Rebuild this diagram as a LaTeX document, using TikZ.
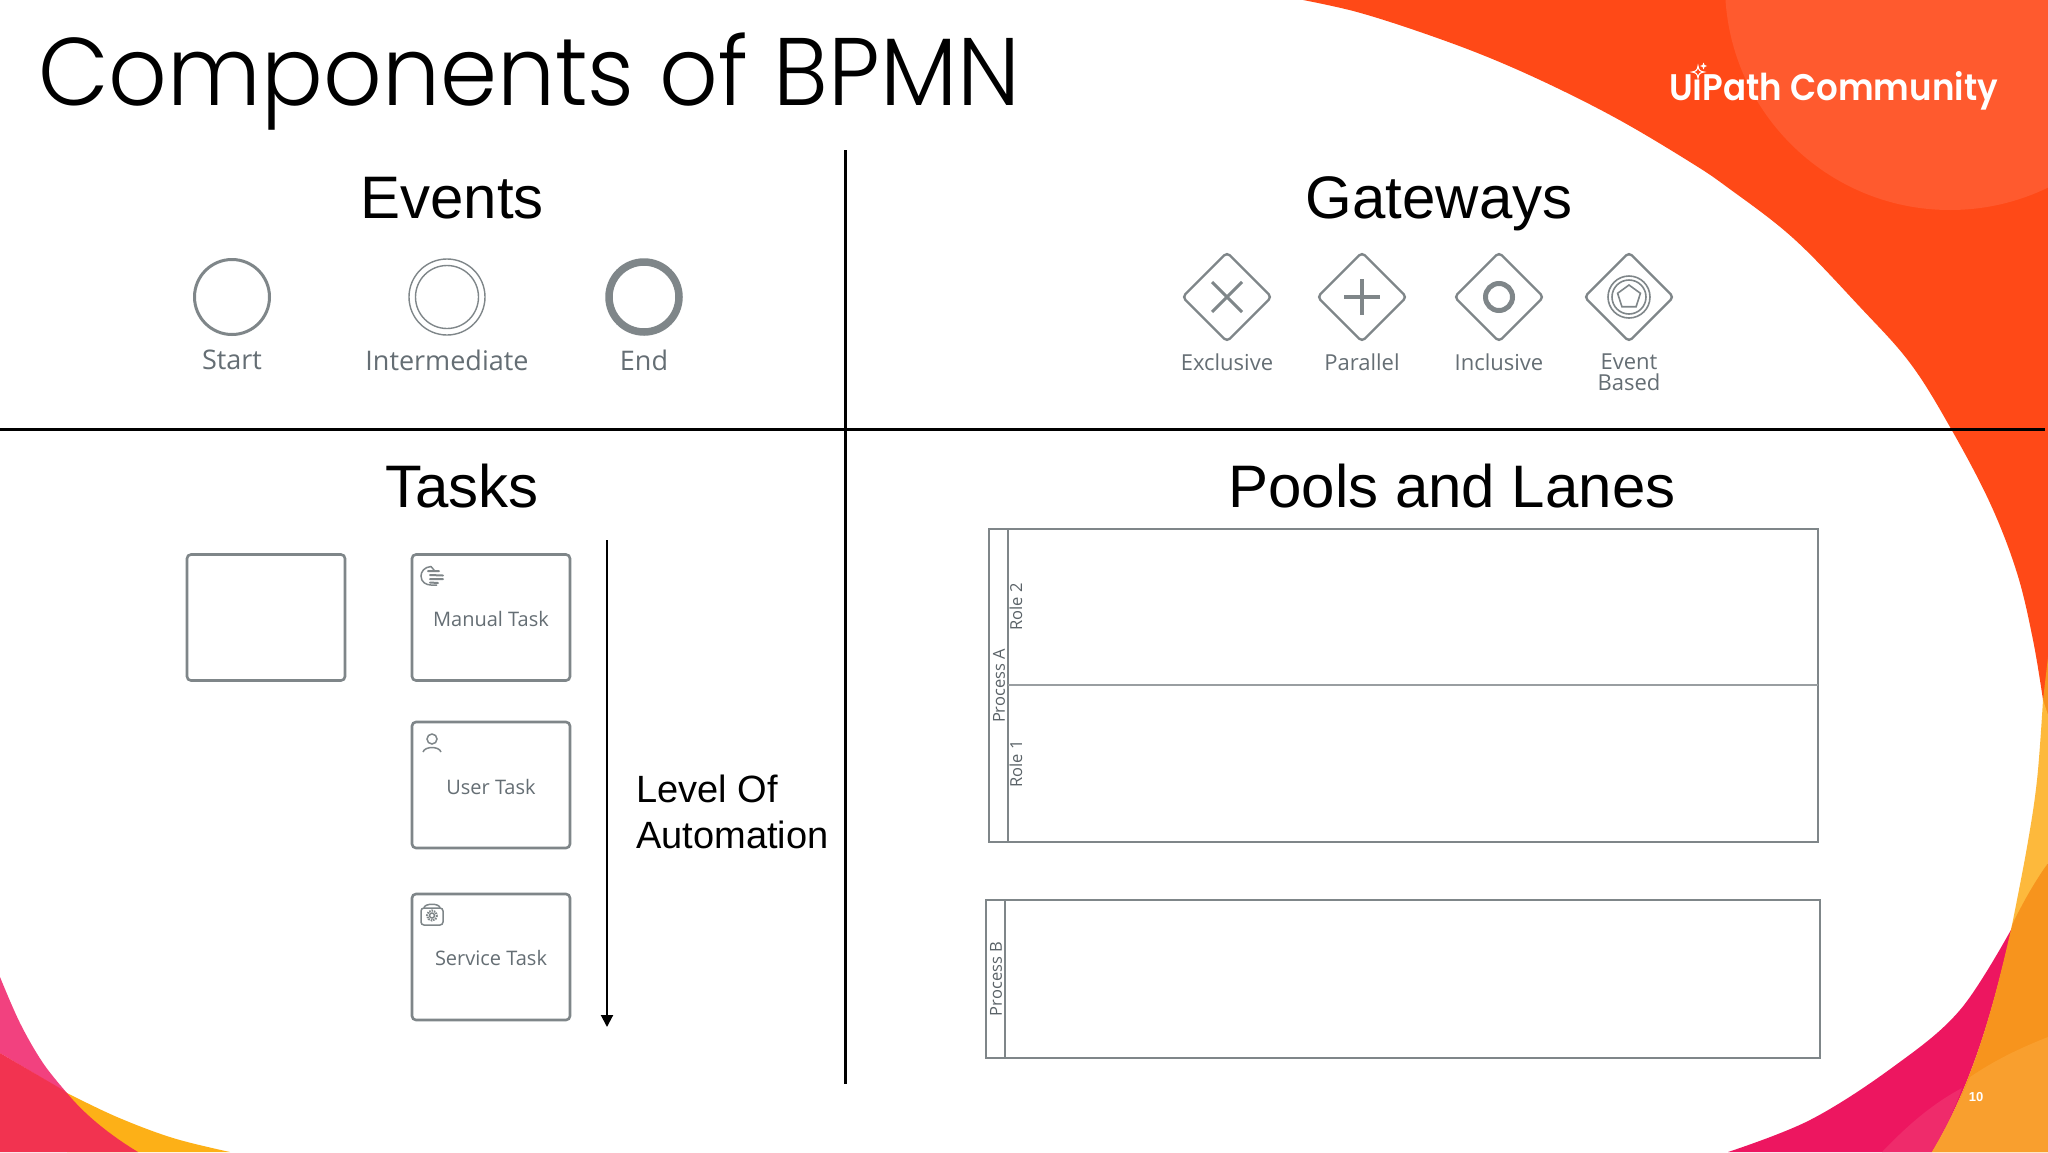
\documentclass[tikz,border=0pt]{standalone}
\usepackage{fontspec}
\setmainfont{Liberation Sans}
\newfontfamily\titlefont{Poppins Light}
\newfontfamily\logofont{Poppins SemiBold}
\newfontfamily\bpmnfont{Open Sans}
\usetikzlibrary{arrows.meta,shapes.geometric}
\definecolor{bpmn}{HTML}{7F8689}
\definecolor{bpmnt}{HTML}{656E74}
\definecolor{redor}{HTML}{FF4917}
\definecolor{redorl}{HTML}{FF5A2E}
\definecolor{yel}{HTML}{FDB93C}
\definecolor{ora}{HTML}{F7941D}
\definecolor{oral}{HTML}{F99F2E}
\definecolor{pnk}{HTML}{ED1660}
\definecolor{pnkl}{HTML}{EF2B6B}
\definecolor{blred}{HTML}{F23350}
\definecolor{blpink}{HTML}{F2417F}
\definecolor{blyel}{HTML}{FDB017}
\tikzset{
 head/.style={font=\fontsize{60}{60}\selectfont,anchor=base,text=black},
 lbl/.style={font=\bpmnfont\fontsize{27}{27}\selectfont,text=bpmnt,anchor=center},
 glbl/.style={font=\bpmnfont\fontsize{22}{21}\selectfont,text=bpmnt,anchor=center,align=center},
 evt/.style={circle,draw=bpmn,minimum size=#1,inner sep=0pt},
 gate/.style={diamond,aspect=1,draw=bpmn,line width=2.4pt,rounded corners=4pt,minimum size=90pt,inner sep=0pt},
 gmark/.style={draw=bpmn,line width=4pt},
 taskbox/.style={draw=bpmn,line width=2.6pt,rounded corners=4pt,minimum width=158pt,minimum height=126pt,inner sep=0pt},
 tlbl/.style={font=\bpmnfont\fontsize{20}{21}\selectfont,text=bpmnt},
 ticon/.style={draw=bpmn,line width=1.5pt},
 poolb/.style={draw=bpmn,line width=2.6pt},
 plbl/.style={font=\bpmnfont\fontsize{16.5}{17}\selectfont,text=bpmnt!90!black,rotate=90,anchor=center},
 rulel/.style={draw=black,line width=3pt},
}
\begin{document}
\begin{tikzpicture}[x=1pt,y=-1pt]
\useasboundingbox (0,0) rectangle (2048,1152);
\fill[white] (0,0) rectangle (2048,1152);
% top right
\fill[redor] plot[smooth,tension=0.6] coordinates {(1303,0) (1357,12) (1423,33) (1490,58) (1557,88) (1623,122) (1690,162) (1727,187) (1793,238) (1860,307) (1910,363) (1950,427) (1990,503) (2017,573) (2033,640) (2043,700)} -- (2048,720) -- (2048,0) -- cycle;
\begin{scope}
\clip (1305,0) rectangle (2048,400);
\fill[redorl] (1950,-15) circle (225);
\end{scope}
% bottom right
\fill[ora] (2048,657) -- (2043,700) -- (2048,720) -- cycle;
\fill[yel] plot[smooth,tension=0.6] coordinates {(2043,700) (2037,780) (2027,847) (2012,925)} -- (2048,863) -- (2048,715) -- cycle;
\fill[pnk] plot[smooth,tension=0.6] coordinates {(2012,928) (1960,1010) (1893,1067) (1810,1120) (1728,1152)} -- (1932,1152) .. controls (1975,1080) and (1995,1000) .. (2012,928) -- cycle;
\fill[pnkl] (1962,1088) .. controls (1930,1105) and (1905,1128) .. (1882,1152) -- (1932,1152) .. controls (1945,1130) and (1955,1108) .. (1962,1088) -- cycle;
\fill[ora] (2012,925) .. controls (2024,900) and (2036,880) .. (2048,863) -- (2048,1152) -- (1932,1152) .. controls (1975,1080) and (1995,1000) .. (2012,925) -- cycle;
\fill[oral] (1970,1077) .. controls (1995,1060) and (2020,1048) .. (2048,1037) -- (2048,1152) -- (1932,1152) .. controls (1948,1125) and (1960,1100) .. (1970,1077) -- cycle;
% bottom left
\fill[blyel] plot[smooth,tension=0.6] coordinates {(67,1093) (117,1117) (173,1138) (230,1152)} -- (67,1152) -- cycle;
\fill[blpink] plot[smooth,tension=0.6] coordinates {(0,977) (20,1023) (43,1063) (67,1093)} -- (0,1053) -- cycle;
\fill[blred] (0,1053) -- (63,1090) -- (67,1093) .. controls (85,1115) and (110,1135) .. (138,1152) -- (0,1152) -- cycle;
% title, logo, page number
\node[font=\titlefont\fontsize{96}{96}\selectfont,anchor=base west,inner sep=0pt] (title) at (38,105) {\scalebox{0.955}[1]{Components of BPMN}};
\node[font=\logofont\fontsize{37}{37}\selectfont,text=white,anchor=base west,inner sep=0pt] (logo) at (1669,100) {\scalebox{0.92}[1]{UıPath Community}};
\draw[white,line width=1.1pt] (1698,66) .. controls (1698.5,70) and (1700,71.5) .. (1704,72) .. controls (1700,72.5) and (1698.5,74) .. (1698,78) .. controls (1697.5,74) and (1696,72.5) .. (1692,72) .. controls (1696,71.5) and (1697.5,70) .. (1698,66) -- cycle;
\fill[white] (1703.5,62.5) -- (1704.5,65) -- (1707,66) -- (1704.5,67) -- (1703.5,69.5) -- (1702.5,67) -- (1700,66) -- (1702.5,65) -- cycle;
\node[font=\bfseries\fontsize{13}{13}\selectfont,text=white] (pageno) at (1976,1097) {10};
% rules
\coordinate (vt) at (845,150); \coordinate (vb) at (845,1084);
\coordinate (hl) at (0,429); \coordinate (hr) at (2045,429);
\draw[rulel] (hl) -- (hr);
\draw[rulel] (vt) -- (vb);
% headings
\node[head] (hev) at (452,218) {Events};
\node[head] (hgw) at (1439,218) {Gateways};
\node[head] (hta) at (462,507) {Tasks};
\node[head] (hpl) at (1452,507) {Pools and Lanes};
% events
\node[evt=75pt,line width=3pt] (start) at (232,297) {};
\node[lbl] (startl) at (232,360) {Start};
\node[evt=76pt,line width=1.4pt] (inter) at (447,297) {};
\node[evt=63pt,line width=1.4pt] (interb) at (447,297) {};
\node[lbl] (interl) at (447,360) {Intermediate};
\node[evt=70pt,line width=7.5pt] (endev) at (644,297) {};
\node[lbl] (endl) at (644,360) {End};
% gateways
\node[gate] (g1) at (1227,297) {};
\node[gate] (g2) at (1362,297) {};
\node[gate] (g3) at (1499,297) {};
\node[gate] (g4) at (1629,297) {};
\draw[gmark,line width=3pt] (1212,282) -- (1242,312) (1212,312) -- (1242,282);
\draw[gmark] (1344,297) -- (1380,297) (1362,279) -- (1362,315);
\draw[gmark,line width=5pt] (1499,297) circle (13.5);
\draw[gmark,line width=1.6pt] (1629,297) circle (21) (1629,297) circle (17);
\draw[gmark,line width=1.6pt] (1629,285) -- (1640.4,293.3) -- (1636.1,306.7) -- (1621.9,306.7) -- (1617.6,293.3) -- cycle;
\node[glbl] (g1l) at (1227,362) {Exclusive};
\node[glbl] (g2l) at (1362,362) {Parallel};
\node[glbl] (g3l) at (1499,362) {Inclusive};
\node[glbl,anchor=north] (g4l) at (1629,350) {Event\\Based};
% tasks
\node[taskbox] (t0) at (266,617.5) {};
\node[taskbox] (t1) at (491,617.5) {};
\node[taskbox] (t2) at (491,785) {};
\node[taskbox] (t3) at (491,957) {};
\node[tlbl] (t1l) at (491,619) {Manual Task};
\node[tlbl] (t2l) at (491,787) {User Task};
\node[tlbl] (t3l) at (491,958) {Service Task};
% hand icon
\draw[ticon] (431,566.5) .. controls (424,567) and (421,572) .. (421,576) .. controls (421,582) and (426,585) .. (431,585) -- (437,585);
\draw[ticon,line cap=round] (431,566.5) -- (434,570);
\draw[ticon,line cap=round,line width=2pt] (428,571) -- (439,571) (430,575) -- (443,575.5) (430,579) -- (443,579) (430,582.5) -- (438,583);
% user icon
\draw[ticon] (432,739) circle (5);
\draw[ticon] (423,752) .. controls (425,746) and (439,746) .. (441,752);
% service icon
\draw[ticon,rounded corners=3pt] (421,908) rectangle (443,925);
\draw[ticon] (424,908) .. controls (424,903) and (440,903) .. (440,908);
\draw[ticon] (432,915.5) circle (2.5);
\draw[ticon,densely dotted,line width=2pt] (432,915.5) circle (5);
% automation arrow
\coordinate (as) at (607,540); \coordinate (ae) at (607,1027);
\draw[black,line width=2pt,-{Triangle[length=12pt,width=12pt]}] (as) -- (ae);
\node[font=\fontsize{38}{46}\selectfont,align=left,anchor=north west,inner sep=0pt] (auto) at (636,775) {Level Of\\Automation};
% pools
\node[poolb,minimum width=829pt,minimum height=313pt,inner sep=0pt] (pa) at (1403.5,685.5) {};
\draw[poolb] (1008,529) -- (1008,842);
\draw[poolb,line width=1.6pt,draw=bpmn!80] (1008,685) -- (1818,685);
\node[plbl] (pal) at (999,686) {Process A};
\node[plbl] (r2) at (1016,607) {Role 2};
\node[plbl] (r1) at (1016,764) {Role 1};
\node[poolb,minimum width=834pt,minimum height=158pt,inner sep=0pt] (pb) at (1403,979) {};
\draw[poolb] (1005,900) -- (1005,1058);
\node[plbl] (pbl) at (996,979) {Process B};
\end{tikzpicture}
\end{document}
